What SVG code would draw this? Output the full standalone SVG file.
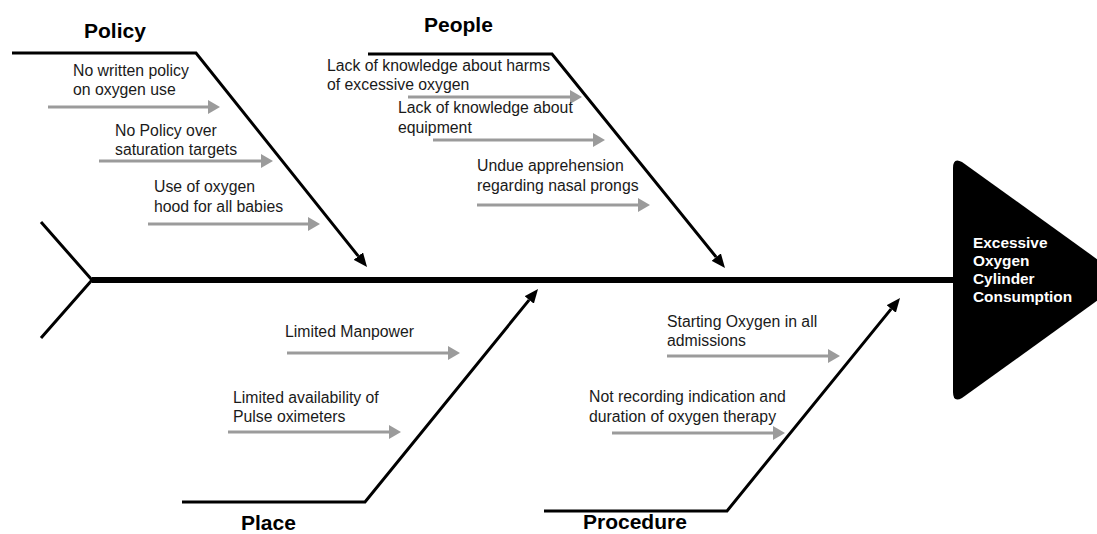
<svg xmlns="http://www.w3.org/2000/svg" width="1097" height="534" viewBox="0 0 1097 534">
<style>
.bone{fill:none;stroke:#000;stroke-width:3}
.cause{fill:none;stroke:#9b9b9b;stroke-width:3}
.t{font-family:"Liberation Sans",Arial,sans-serif;font-size:15.8px;fill:#1a1a1a}
.h{font-family:"Liberation Sans",Arial,sans-serif;font-size:21px;font-weight:bold;fill:#000}
.e{font-family:"Liberation Sans",Arial,sans-serif;font-size:15.4px;font-weight:bold;fill:#fff}
</style>
<defs>
<marker id="ba" viewBox="0 0 14 12" refX="0" refY="6" markerWidth="14" markerHeight="12" markerUnits="userSpaceOnUse" orient="auto"><path d="M0,0 L14,6 L0,12 z" fill="#000"/></marker>
<marker id="ga" viewBox="0 0 12 14" refX="0" refY="7" markerWidth="12" markerHeight="14" markerUnits="userSpaceOnUse" orient="auto"><path d="M0,0 L12,7 L0,14 z" fill="#9b9b9b"/></marker>
</defs>
<g id="connectors">
<path d="M41,222 L92,280 L41,338" fill="none" stroke="#000" stroke-width="3"/>
<line x1="92" y1="280" x2="956" y2="280" stroke="#000" stroke-width="6"/>
<path class="bone" d="M12,53 L196,53 L358.3,256.1" marker-end="url(#ba)"/>
<path class="bone" d="M368,54 L552,54 L716.2,257.1" marker-end="url(#ba)"/>
<path class="bone" d="M182,502 L365,502 L529.2,299.9" marker-end="url(#ba)"/>
<path class="bone" d="M544,511 L727,511 L891.2,308.9" marker-end="url(#ba)"/>
<line class="cause" x1="48" y1="107" x2="208" y2="107" marker-end="url(#ga)"/>
<line class="cause" x1="99" y1="161" x2="261" y2="161" marker-end="url(#ga)"/>
<line class="cause" x1="148" y1="224" x2="308" y2="224" marker-end="url(#ga)"/>
<line class="cause" x1="408" y1="97" x2="570" y2="97" marker-end="url(#ga)"/>
<line class="cause" x1="433" y1="140" x2="593" y2="140" marker-end="url(#ga)"/>
<line class="cause" x1="477" y1="205" x2="638" y2="205" marker-end="url(#ga)"/>
<line class="cause" x1="287" y1="353" x2="448" y2="353" marker-end="url(#ga)"/>
<line class="cause" x1="228" y1="432" x2="389" y2="432" marker-end="url(#ga)"/>
<line class="cause" x1="667" y1="356" x2="828" y2="356" marker-end="url(#ga)"/>
<line class="cause" x1="612" y1="433" x2="773" y2="433" marker-end="url(#ga)"/>
</g>
<g id="head">
<path d="M953,168 Q953,157 962,162 L1126,280 L962,398 Q953,403 953,392 Z" fill="#000"/>
<text class="e" x="973" y="248">Excessive</text>
<text class="e" x="973" y="266">Oxygen</text>
<text class="e" x="973" y="284">Cylinder</text>
<text class="e" x="973" y="302">Consumption</text>
</g>
<g id="policy">
<text class="h" x="84" y="38">Policy</text>
<text class="t" x="73" y="76">No written policy</text>
<text class="t" x="73" y="95">on oxygen use</text>
<text class="t" x="115" y="136">No Policy over</text>
<text class="t" x="115" y="155">saturation targets</text>
<text class="t" x="154" y="192">Use of oxygen</text>
<text class="t" x="154" y="212">hood for all babies</text>
</g>
<g id="people">
<text class="h" x="424" y="32">People</text>
<text class="t" x="327" y="71">Lack of knowledge about harms</text>
<text class="t" x="327" y="90">of excessive oxygen</text>
<text class="t" x="398" y="113">Lack of knowledge about</text>
<text class="t" x="398" y="133">equipment</text>
<text class="t" x="477" y="171">Undue apprehension</text>
<text class="t" x="477" y="191">regarding nasal prongs</text>
</g>
<g id="place">
<text class="h" x="241" y="530">Place</text>
<text class="t" x="285" y="337">Limited Manpower</text>
<text class="t" x="233" y="403">Limited availability of</text>
<text class="t" x="233" y="422">Pulse oximeters</text>
</g>
<g id="procedure">
<text class="h" x="583" y="529">Procedure</text>
<text class="t" x="667" y="327">Starting Oxygen in all</text>
<text class="t" x="667" y="346">admissions</text>
<text class="t" x="589" y="402">Not recording indication and</text>
<text class="t" x="589" y="422">duration of oxygen therapy</text>
</g>
</svg>
